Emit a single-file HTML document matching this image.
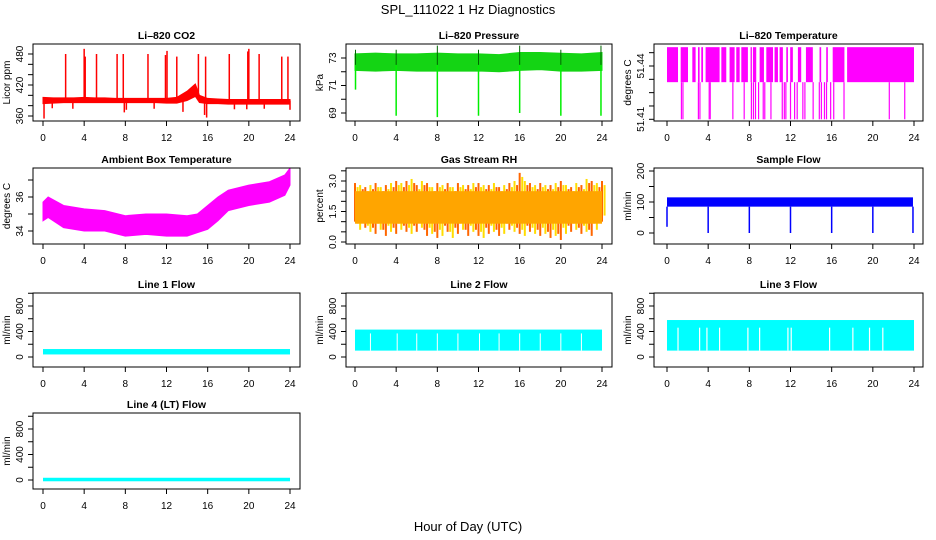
<!DOCTYPE html>
<html><head><meta charset="utf-8"><style>
html,body{margin:0;padding:0;background:#fff;}
svg{display:block;font-family:"Liberation Sans",Arial,sans-serif;}
</style></head><body>
<svg id="chart" width="936" height="540" viewBox="0 0 936 540"></svg>
<script>
// ---------- DATA ----------
const xTicks=[0,4,8,12,16,20,24];
const co2Hours=[0,1,2,3,4,5,6,7,8,9,10,11,12,13,14,14.8,15.2,16,17,18,19,20,21,22,23,24];
const co2Lo=[384,385,386,386,386,386,386,386,386,386,386,386,385,385,390,398,386,384,384,383,383,383,383,383,383,383];
const co2Hi=[396,395,395,395,396,395,395,394,394,394,394,394,394,396,408,422,400,394,393,392,392,392,392,392,392,392];
const co2SpikeHours=[2.2,4.0,4.1,5.2,7.2,7.8,10.2,11.9,12.05,13.0,15.1,15.8,18.1,19.9,20.0,21.0,23.2,23.8,0.1,15.9,15.7,7.9,13.6,0.9,2.9,8.1,10.8,18.6,19.8,21.5,24.0];
const co2SpikeVals=[480,490,475,480,480,480,480,478,486,475,480,475,480,485,490,480,475,475,355,357,362,367,368,375,374,372,374,373,373,374,372];
const presHours=[0,2,4,6,8,10,12,14,16,18,20,22,24];
const presLo=[72.1,72.05,72.1,72.05,72.05,72.05,72.05,72.0,72.1,72.15,72.05,72.05,72.1];
const presHi=[73.3,73.35,73.3,73.3,73.35,73.3,73.3,73.25,73.4,73.4,73.35,73.3,73.4];
const presDropHours=[0.05,4.0,8.0,12.0,16.0,20.0,23.9];
const presDropVals=[70.7,68.8,68.7,68.8,69.0,68.8,68.8];
const presUpVals=[73.6,73.6,73.9,73.6,73.9,73.6,73.9];
const tempBlockStart=[0,1.33,2.46,3.01,3.33,3.75,5.28,6.08,6.73,7.22,8.12,8.35,9.0,9.65,10.45,10.94,11.59,11.97,12.72,13.5,14.82,15.47,16.1,17.5];
const tempBlockEnd=[1.07,2.04,2.78,3.17,3.5,5.11,5.76,6.57,7.06,7.86,8.25,8.67,9.42,10.3,10.78,11.26,11.75,12.23,13.04,14.17,14.98,15.63,17.24,24];
const tempHigh=51.4506, tempMid=51.4309, tempLow=51.41;
const tempDropHours=[1.4,1.55,3.05,3.2,4.1,4.2,6.4,7.5,8.2,8.4,8.6,8.9,9.35,9.5,10.1,11.2,11.4,11.55,12.0,12.4,12.65,13.2,13.4,14.2,14.8,15.0,15.3,15.5,15.9,16.2,17.2,21.6,23.1];
const ambHours=[0,0.5,2,4,6,8,10,12,14,15,16,17,18,20,22,23.5,24];
const ambHi=[35.7,36.0,35.5,35.3,35.2,34.9,35.0,35.0,34.9,35.0,35.5,36.0,36.4,36.7,36.9,37.3,37.7];
const ambLo=[34.6,34.8,34.2,34.0,34.0,33.7,33.8,33.7,33.7,33.9,34.1,34.6,35.2,35.5,35.7,36.1,36.7];
const rhHi=[2.9,2.8,2.7,2.8,2.9,2.7,2.8,2.9,3.0,2.9,3.0,3.1,2.8,3.0,2.9,2.7,2.9,2.8,2.9,2.7,2.9,2.8,2.8,2.9,2.9,2.8,2.8,2.9,2.7,2.8,2.9,3.0,3.4,3.0,2.9,2.8,2.9,2.8,2.8,2.9,3.0,2.8,2.7,2.9,2.8,3.1,3.0,2.9,3.0];
const rhLo=[1.0,0.6,0.7,0.5,0.4,0.6,0.3,0.5,0.4,0.6,0.5,0.4,0.5,0.7,0.3,0.4,0.2,0.3,0.5,0.2,0.4,0.6,0.3,0.5,0.3,0.2,0.4,0.5,0.3,0.4,0.6,0.5,0.4,0.3,0.5,0.4,0.3,0.4,0.2,0.3,0.1,0.4,0.5,0.6,0.4,0.5,0.3,0.6,1.0];
const rhCoreLo=0.9, rhCoreHi=2.5;
const sfLo=85, sfHi=115;
const sfDropHours=[0.0,4.0,8.0,12.0,16.0,20.0,23.9];
const sfDropVals=[20,0,0,0,0,0,0];
const l1Lo=40, l1Hi=125;
const l2Lo=100, l2Hi=430;
const l2GapHours=[1.5,4.1,6.0,8.0,10.0,12.1,14.0,16.0,18.0,20.0,22.0];
const l3Lo=100, l3Hi=580;
const l3GapHours=[1.07,3.17,3.88,5.11,7.86,9.0,11.75,12.07,15.8,18.06,19.68,20.97];
const l4Lo=0, l4Hi=15;

// ---------- HELPERS ----------
const NS='http://www.w3.org/2000/svg';
const svg=document.getElementById('chart');
function mk(tag,attrs,parent){const e=document.createElementNS(NS,tag);for(const k in attrs)e.setAttribute(k,attrs[k]);(parent||svg).appendChild(e);return e;}
let clipId=0;
function panel(p){
  const [l,t,r,b]=p.box;
  const sx=h=>p.x0+(p.x24-p.x0)*h/24;
  const sy=v=>p.yp1+(v-p.yv1)*(p.yp2-p.yp1)/(p.yv2-p.yv1);
  const g=mk('g',{});
  
  
  const id='c'+(clipId++);
  const cp=mk('clipPath',{id:id},g);
  mk('rect',{x:l,y:t,width:r-l,height:b-t},cp);
  const data=mk('g',{'clip-path':'url(#'+id+')'},g);
  
  
  const box=mk('rect',{x:l,y:t,width:r-l,height:b-t,fill:'none',stroke:'#000','stroke-width':1},g);
  
  
  const ti=mk('text',{x:(l+r)/2,y:t-5,'text-anchor':'middle','font-size':10.5,'font-weight':'bold'},g);
  ti.textContent=p.title;
  
  
  const ax=mk('g',{stroke:'#000','stroke-width':1},g);
  
  
  mk('line',{x1:sx(0),x2:sx(24),y1:b,y2:b},ax);
  xTicks.forEach(h=>{
    mk('line',{x1:sx(h),x2:sx(h),y1:b,y2:b+5},ax);
    const tl=mk('text',{x:sx(h),y:b+20,'text-anchor':'middle','font-size':10,stroke:'none',fill:'#000'},ax);
    tl.textContent=h;
    
    
  });
  const ay=mk('g',{stroke:'#000','stroke-width':1},g);
  
  
  mk('line',{x1:l,x2:l,y1:sy(p.ticks[0]),y2:sy(p.ticks[p.ticks.length-1])},ay);
  p.ticks.forEach((v,i)=>{
    mk('line',{x1:l-5,x2:l,y1:sy(v),y2:sy(v)},ay);
    if(p.labels[i]){
      const yl=mk('text',{x:0,y:0,'text-anchor':'middle','font-size':10,stroke:'none',fill:'#000',transform:`translate(${l-10},${sy(v)}) rotate(-90)`},ay);
      yl.textContent=p.labels[i];
      
      
    }
  });
  const yt=mk('text',{x:0,y:0,'text-anchor':'middle','font-size':10,transform:`translate(${l-23},${(t+b)/2}) rotate(-90)`},g);
  yt.textContent=p.ylab;
  
  
  return {sx,sy,g:data};
}
function band(P,hours,lo,hi,color){
  let pts=hours.map((h,i)=>P.sx(h)+','+P.sy(hi[i]));
  for(let i=hours.length-1;i>=0;i--)pts.push(P.sx(hours[i])+','+P.sy(lo[i]));
  const e=mk('polygon',{points:pts.join(' '),fill:color,stroke:color,'stroke-width':1},P.g);
  
  
}
function rectBand(P,h0,h1,lo,hi,color){
  const e=mk('rect',{x:P.sx(h0),y:P.sy(hi),width:P.sx(h1)-P.sx(h0),height:P.sy(lo)-P.sy(hi),fill:color},P.g);
  
  
}
function vline(P,h,v1,v2,color,w){
  const e=mk('line',{x1:P.sx(h),x2:P.sx(h),y1:P.sy(v1),y2:P.sy(v2),stroke:color,'stroke-width':w||1.5},P.g);
  
  
}
const C1=[33,300,43,290],C2=[346,612,355,602],C3=[654,923,667,914];
const R1=[44,121],R2=[168,244],R3=[293,367],R4=[413,489];
function cfg(c,r,o){return Object.assign({box:[c[0],r[0],c[1],r[1]],x0:c[2],x24:c[3]},o);}
const flowTicks=[0,200,400,600,800,1000],flowLabels=['0','','400','','800',''];

// CO2
let P=panel(cfg(C1,R1,{name:'co2',title:'Li–820 CO2',ylab:'Licor ppm',yv1:360,yp1:116,yv2:480,yp2:54,ticks:[360,380,400,420,440,460,480],labels:['360','','','420','','','480']}));
band(P,co2Hours,co2Lo,co2Hi,'#ff0000');
co2SpikeHours.forEach((h,i)=>vline(P,h,390,co2SpikeVals[i],'#ff0000',1.5));
// Pressure
P=panel(cfg(C2,R1,{name:'pressure',title:'Li–820 Pressure',ylab:'kPa',yv1:69,yp1:113,yv2:73,yp2:58,ticks:[69,70,71,72,73],labels:['69','','71','','73']}));
band(P,presHours,presLo,presHi,'#14d414');
presDropHours.forEach((h,i)=>{vline(P,h,72.5,presDropVals[i],'#00ee00',1.5);vline(P,h,72.5,presUpVals[i],'#006600',1);});
// Temperature
P=panel(cfg(C3,R1,{name:'li820-temp',title:'Li–820 Temperature',ylab:'degrees C',yv1:51.41,yp1:119.3,yv2:51.44,yp2:66,ticks:[51.41,51.4175,51.425,51.4325,51.44,51.4475],labels:['51.41','','','','51.44','']}));
tempBlockStart.forEach((s,i)=>rectBand(P,s,tempBlockEnd[i],tempMid,tempHigh,'#ff00ff'));
tempDropHours.forEach(h=>vline(P,h,tempMid,tempLow,'#ff00ff',1.2));
// Ambient
P=panel(cfg(C1,R2,{name:'ambient-temp',title:'Ambient Box Temperature',ylab:'degrees C',yv1:34,yp1:231,yv2:36,yp2:197,ticks:[34,35,36,37],labels:['34','','36','']}));
band(P,ambHours,ambLo,ambHi,'#ff00ff');
// RH
P=panel(cfg(C2,R2,{name:'gas-rh',title:'Gas Stream RH',ylab:'percent',yv1:0,yp1:242,yv2:3,yp2:181,ticks:[0,0.5,1,1.5,2,2.5,3,3.5],labels:['0.0','','','1.5','','','3.0','']}));
rhHi.forEach((v,i)=>{vline(P,i*0.5,rhLo[i],v,i%2?'#ffdd00':'#ff6600',2);vline(P,i*0.5+0.25,rhLo[(i+1)%49]+0.3,v-0.2,i%2?'#ff6600':'#ffdd00',2);});
rectBand(P,0,24,rhCoreLo,rhCoreHi,'#ffa500');
// Sample flow
P=panel(cfg(C3,R2,{name:'sample-flow',title:'Sample Flow',ylab:'ml/min',yv1:0,yp1:233,yv2:200,yp2:171,ticks:[0,50,100,150,200],labels:['0','','100','','200']}));
rectBand(P,0,23.9,sfLo,sfHi,'#0000ff');
sfDropHours.forEach((h,i)=>vline(P,h,sfLo,sfDropVals[i],'#0000ff',1.5));
// Line flows
P=panel(cfg(C1,R3,{name:'line1-flow',title:'Line 1 Flow',ylab:'ml/min',yv1:0,yp1:357,yv2:800,yp2:306,ticks:flowTicks,labels:flowLabels}));
rectBand(P,0,24,l1Lo,l1Hi,'#00ffff');
P=panel(cfg(C2,R3,{name:'line2-flow',title:'Line 2 Flow',ylab:'ml/min',yv1:0,yp1:357,yv2:800,yp2:306,ticks:flowTicks,labels:flowLabels}));
rectBand(P,0,24,l2Lo,l2Hi,'#00ffff');
l2GapHours.forEach(h=>vline(P,h,l2Lo,l2Hi-60,'#ffffff',1));
P=panel(cfg(C3,R3,{name:'line3-flow',title:'Line 3 Flow',ylab:'ml/min',yv1:0,yp1:357,yv2:800,yp2:306,ticks:flowTicks,labels:flowLabels}));
rectBand(P,0,24,l3Lo,l3Hi,'#00ffff');
l3GapHours.forEach(h=>vline(P,h,l3Lo,l3Hi-120,'#ffffff',1.2));
P=panel(cfg(C1,R4,{name:'line4-flow',title:'Line 4 (LT) Flow',ylab:'ml/min',yv1:0,yp1:480,yv2:800,yp2:429,ticks:flowTicks,labels:flowLabels}));
rectBand(P,0,24,l4Lo-20,l4Hi+20,'#00ffff');

const mt=mk('text',{x:468,y:14,'text-anchor':'middle','font-size':13});
mt.textContent='SPL_111022  1 Hz Diagnostics';


const xl=mk('text',{x:468,y:531,'text-anchor':'middle','font-size':13});
xl.textContent='Hour of Day (UTC)';


</script>
</body></html>
